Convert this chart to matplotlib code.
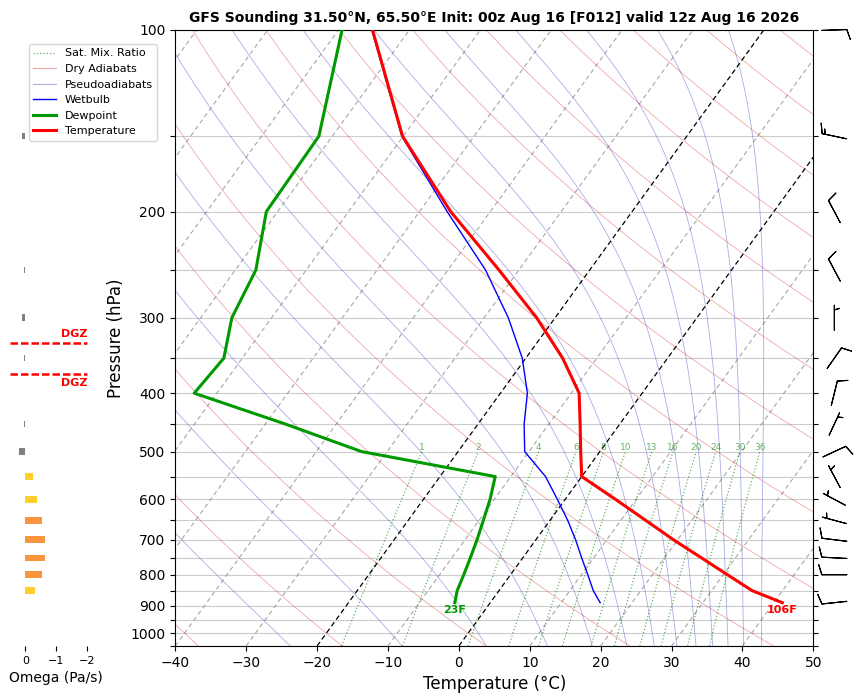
import numpy as np
import matplotlib
matplotlib.use("Agg")
import matplotlib.pyplot as plt
from matplotlib.transforms import Affine2D, blended_transform_factory
from matplotlib.lines import Line2D
from matplotlib.ticker import NullLocator

# GFS sounding (hPa, degC)
pres = [890, 850, 800, 750, 700, 650, 600, 550, 500, 450, 400, 350, 300, 250, 200, 150, 100]
temp = [41.2, 35.7, 30.6, 25.2, 19.4, 13.5, 7.1, 0.0, -2.7, -5.6, -8.9, -14.8, -22.6, -32.8, -45.6, -60.1, -75.2]
dewp = [-5.0, -5.9, -6.6, -7.4, -8.3, -9.4, -10.6, -12.2, -33.6, -47.2, -63.2, -62.6, -65.6, -67.1, -71.6, -71.9, -79.5]
wetb = [15.5, 13.3, 10.9, 8.3, 5.6, 2.5, -1.1, -5.1, -10.6, -13.5, -16.2, -20.5, -26.6, -34.7, -46.1, -60.2, -75.3]

# winds (direction from, knots)
wind_p = [100, 150, 200, 250, 300, 350, 400, 450, 500, 550, 600, 650, 700, 750, 800, 890]
wind_dir = [88, 282, 332, 332, 0, 35, 14, 25, 65, 332, 298, 285, 277, 273, 270, 264]
wind_spd = [10, 15, 10, 10, 5, 10, 10, 5, 10, 5, 5, 5, 10, 10, 10, 10]

# vertical velocity (Pa/s)
omega_p = [150, 250, 300, 350, 450, 500, 550, 600, 650, 700, 750, 800, 850]
omega = [0.1, 0.04, 0.1, 0.03, 0.03, 0.2, -0.24, -0.37, -0.54, -0.64, -0.64, -0.54, -0.31]

# dendritic growth zone bounds (hPa)
dgz_top = 330
dgz_bot = 372

mix_ratios = [1, 2, 4, 6, 8, 10, 13, 16, 20, 24, 30, 36]

title = "GFS Sounding 31.50°N, 65.50°E Init: 00z Aug 16 [F012] valid 12z Aug 16 2026"

P_BOT, P_TOP = 1050, 100
Rd, Cp, Lv, eps = 287.04, 1005.7, 2.501e6, 0.622


def sat_vp(tc):
    return 6.112 * np.exp(17.67 * tc / (tc + 243.5))


def moist_dtdp(p, tk):
    es = sat_vp(tk - 273.15)
    rs = eps * es / (p - es)
    return (Rd * tk + Lv * rs) / (Cp + Lv ** 2 * rs * eps / (Rd * tk ** 2)) / p


def moist_lines(t_top, plev):
    # integrate pseudoadiabats downward starting at the top pressure
    tk = np.asarray(t_top, float) + 273.15
    out = [tk.copy()]
    for i in range(len(plev) - 1):
        p0, p1 = plev[i], plev[i + 1]
        h = p1 - p0
        k1 = moist_dtdp(p0, tk)
        k2 = moist_dtdp(p0 + h / 2, tk + h / 2 * k1)
        k3 = moist_dtdp(p0 + h / 2, tk + h / 2 * k2)
        k4 = moist_dtdp(p1, tk + h * k3)
        tk = tk + h / 6 * (k1 + 2 * k2 + 2 * k3 + k4)
        out.append(tk.copy())
    return np.array(out) - 273.15


fig = plt.figure(figsize=(8.59, 6.94), dpi=100)
ax = fig.add_axes([0.2041, 0.0692, 0.7427, 0.8876])
ax.set_yscale("log")
ax.set_xlim(-40, 50)
ax.set_ylim(P_BOT, P_TOP)

skew = ax.transScale + ax.transLimits + Affine2D().skew_deg(35, 0) + ax.transAxes

# isotherms
for t in range(-130, 51, 10):
    if t in (0, -20):
        ax.plot([t, t], [P_BOT, P_TOP], transform=skew, color="black", ls=(0, (4, 2.5)),
                lw=0.9, zorder=2)
    else:
        ax.plot([t, t], [P_BOT, P_TOP], transform=skew, color="gray", ls=(0, (4, 3)), lw=0.8,
                alpha=0.7, zorder=1)

# dry adiabats
pp = np.linspace(P_BOT, P_TOP, 120)
for th in range(-40, 260, 20):
    tt = (th + 273.15) * (pp / 1000.0) ** 0.2857 - 273.15
    ax.plot(tt, pp, transform=skew, color="#d62728", alpha=0.4, lw=0.6, zorder=1)

# pseudoadiabats
plev = np.geomspace(P_TOP, P_BOT, 400)
mt = moist_lines(np.arange(-175, -20, 10), plev)
for j in range(mt.shape[1]):
    ax.plot(mt[:, j], plev, transform=skew, color="#3030c0", alpha=0.4, lw=0.6, zorder=1)

# saturation mixing ratio lines
pm = np.linspace(P_BOT, 500, 60)
for w in mix_ratios:
    e = w * pm / (622.0 + w)
    ln = np.log(e / 6.112)
    td = 243.5 * ln / (17.67 - ln)
    ax.plot(td, pm, transform=skew, color="green", ls=":", lw=0.9, alpha=0.6, zorder=1)
    ax.text(td[-1], 500, str(w), transform=skew, ha="center", va="bottom",
            fontsize=6.5, color="green", alpha=0.6, zorder=2)

# sounding
ax.plot(wetb, pres, transform=skew, color="blue", lw=1, zorder=4)
ax.plot(dewp, pres, transform=skew, color="#009a00", lw=2.2, zorder=5)
ax.plot(temp, pres, transform=skew, color="red", lw=2.2, zorder=6)

ax.annotate(f"{temp[0] * 9 / 5 + 32:.0f}F", (temp[0], pres[0]), xycoords=skew,
            xytext=(0, -2), textcoords="offset points", ha="center", va="top",
            fontsize=8, fontweight="bold", color="red", zorder=7)
ax.annotate(f"{dewp[0] * 9 / 5 + 32:.0f}F", (dewp[0], pres[0]), xycoords=skew,
            xytext=(0, -2), textcoords="offset points", ha="center", va="top",
            fontsize=8, fontweight="bold", color="#009a00", zorder=7)

# wind barbs just right of the plot
wd = np.deg2rad(wind_dir)
u = -np.array(wind_spd) * np.sin(wd)
v = -np.array(wind_spd) * np.cos(wd)
bt = blended_transform_factory(ax.transAxes, ax.transData)
ax.barbs(np.full(len(wind_p), 1.033), wind_p, u, v, transform=bt, clip_on=False,
         length=6, pivot="middle", lw=0.8, color="black")

ax.set_xlim(-40, 50)
ax.set_ylim(P_BOT, P_TOP)
ticks = list(range(100, 1051, 50))
ax.set_yticks(ticks, [str(t) if t % 100 == 0 else "" for t in ticks])
ax.yaxis.set_minor_locator(NullLocator())
ax.set_xticks(range(-40, 51, 10))
ax.tick_params(axis="y", right=True, labelsize=10)
ax.tick_params(axis="x", labelsize=10)
ax.yaxis.grid(True, color="#cccccc", lw=0.8)
ax.set_axisbelow(True)
ax.set_xlabel("Temperature (°C)", fontsize=12)
ax.set_ylabel("Pressure (hPa)", fontsize=12)
ax.set_title(title, fontsize=10, fontweight="bold")

# omega panel
oax = fig.add_axes([0.0114, 0.0692, 0.1083, 0.8876], sharey=ax)
cols = ["#808080" if w > 0 else ("#fdd02f" if w > -0.5 else "#f7963f") for w in omega]
oax.barh(omega_p, omega, height=[0.025 * p for p in omega_p], color=cols)
oax.hlines([dgz_top, dgz_bot], 0.5, -2.0, color="red", ls=(0, (3, 1.2)), lw=1.8)
oax.annotate("DGZ", (-2.0, dgz_top), xytext=(0, 3), textcoords="offset points",
             ha="right", va="bottom", fontsize=8, fontweight="bold", color="red")
oax.annotate("DGZ", (-2.0, dgz_bot), xytext=(0, -3), textcoords="offset points",
             ha="right", va="top", fontsize=8, fontweight="bold", color="red")
oax.set_xlim(0.5, -2.5)
oax.set_xticks([0, -1, -2])
oax.tick_params(axis="x", labelsize=8)
oax.tick_params(axis="y", left=False, labelleft=False)
for s in oax.spines.values():
    s.set_visible(False)
oax.set_xlabel("Omega (Pa/s)", fontsize=10)

handles = [
    Line2D([], [], color="green", ls=":", lw=0.9, alpha=0.6),
    Line2D([], [], color="#d62728", lw=0.8, alpha=0.4),
    Line2D([], [], color="#3030c0", lw=0.8, alpha=0.4),
    Line2D([], [], color="blue", lw=1),
    Line2D([], [], color="#009a00", lw=2.2),
    Line2D([], [], color="red", lw=2.2),
]
labels = ["Sat. Mix. Ratio", "Dry Adiabats", "Pseudoadiabats", "Wetbulb", "Dewpoint", "Temperature"]
fig.legend(handles, labels, loc="upper left", bbox_to_anchor=(0.0338, 0.9366),
           borderaxespad=0, fontsize=8)

fig.savefig("out.png", dpi=100)
